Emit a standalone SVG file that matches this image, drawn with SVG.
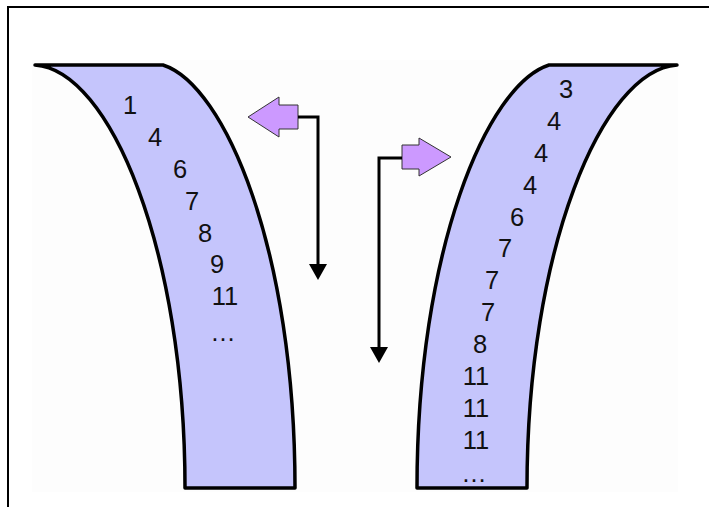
<svg xmlns="http://www.w3.org/2000/svg" width="709" height="507" viewBox="0 0 709 507">
<style>
.band{fill:#c5c5fc;stroke:#000;stroke-width:3.5;stroke-linejoin:round}
.num{font-family:"Liberation Sans",Arial,sans-serif;font-size:25.5px;fill:#111;text-anchor:middle}
.blk{fill:#cc99ff;stroke:#333;stroke-width:1}
.conn{fill:none;stroke:#000;stroke-width:3}
</style>
<defs>
<marker id="ah" viewBox="0 0 16 18" refX="4" refY="9" markerWidth="16" markerHeight="18" orient="auto" markerUnits="userSpaceOnUse">
<path d="M0,0 L16,9 L0,18 Z" fill="#000"/>
</marker>
</defs>
<rect width="709" height="507" fill="#fff"/>
<rect x="32" y="60" width="646" height="432" fill="#fdfdfd"/>
<path d="M8,507 V7 H709" fill="none" stroke="#000" stroke-width="2"/>
<g id="left-list">
<path class="band" d="M35,65 L163,65 C225,85 295,250 295,488 L185,488 C185,250 110,70 35,65 Z"/>
<text class="num" x="130" y="114">1</text>
<text class="num" x="155" y="146">4</text>
<text class="num" x="180" y="178">6</text>
<text class="num" x="192" y="210">7</text>
<text class="num" x="205" y="242">8</text>
<text class="num" x="217" y="273">9</text>
<text class="num" x="225" y="305">11</text>
<text class="num" x="223" y="341">…</text>
</g>
<g id="right-list">
<path class="band" d="M677,65 L549,65 C487,85 417,250 417,488 L527,488 C527,250 602,70 677,65 Z"/>
<text class="num" x="566" y="98">3</text>
<text class="num" x="554" y="130">4</text>
<text class="num" x="541" y="162">4</text>
<text class="num" x="530" y="194">4</text>
<text class="num" x="517" y="226">6</text>
<text class="num" x="505" y="257">7</text>
<text class="num" x="492" y="289">7</text>
<text class="num" x="488" y="321">7</text>
<text class="num" x="480" y="353">8</text>
<text class="num" x="476" y="385">11</text>
<text class="num" x="476" y="417">11</text>
<text class="num" x="476" y="449">11</text>
<text class="num" x="474" y="482">…</text>
</g>
<g id="left-arrow">
<polygon class="blk" points="248,117 279,97 279,105 298,105 298,129 279,129 279,137"/>
</g>
<g id="right-arrow">
<polygon class="blk" points="451,157 419,138 419,145 402,145 402,169 419,169 419,176"/>
</g>
<g id="connectors">
<path class="conn" d="M298,117 H318 V268" marker-end="url(#ah)"/>
<path class="conn" d="M402,158 H379 V351" marker-end="url(#ah)"/>
</g>
</svg>
